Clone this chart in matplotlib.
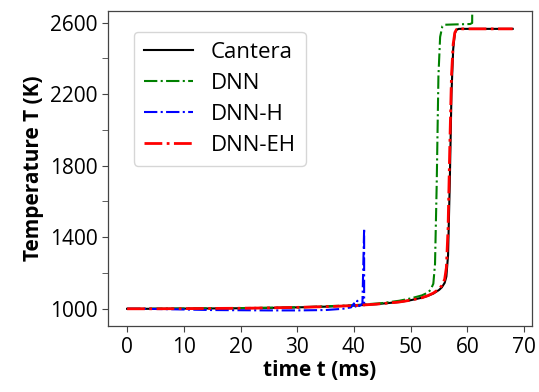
import matplotlib
matplotlib.use('Agg')
import matplotlib.pyplot as plt

plt.rcParams['font.family'] = ['Open Sans', 'DejaVu Sans']

# values (t in ms, T in K)
t_cantera = [0, 5, 10, 15, 20, 25, 30, 35, 40, 44, 48, 50, 52, 53, 54, 55, 55.5, 56, 56.3,
             56.6, 56.9, 57.2, 57.5, 57.8, 58.1, 58.5, 60, 65, 68]
T_cantera = [1000, 1000, 1001, 1002, 1003, 1005, 1008, 1012, 1018, 1026, 1038, 1048, 1062, 1072,
             1085, 1105, 1120, 1145, 1180, 1300, 1700, 2200, 2450, 2540, 2560, 2565, 2565, 2565, 2565]

t_dnn = [0, 10, 20, 30, 40, 45, 48, 50, 52, 53, 53.5, 54, 54.3, 54.6, 54.9, 55.2, 55.6, 56,
         58, 60.5, 60.85, 60.88]
T_dnn = [1000, 1002, 1004, 1008, 1020, 1032, 1045, 1058, 1075, 1090, 1105, 1140, 1250, 1700,
         2300, 2520, 2580, 2588, 2590, 2592, 2598, 2800]

t_dnnh = [0, 5, 10, 15, 20, 25, 30, 35, 38, 39.5, 40, 40.3, 40.6, 40.9, 41.2, 41.5, 41.8, 41.8, 41.9]
T_dnnh = [1000, 999, 996, 993, 992, 991, 991, 993, 1000, 1008, 1030, 1012, 1045, 1015, 1020,
          1030, 1450, 1020, 1020]

t_dnneh = [0, 5, 10, 15, 20, 25, 30, 35, 40, 44, 48, 50, 52, 53, 54, 55, 55.5, 56, 56.3,
           56.6, 56.9, 57.2, 57.5, 57.8, 58.1, 58.5, 60, 65, 68]
T_dnneh = [1000, 1000, 1001, 1002, 1003, 1005, 1008, 1012, 1018, 1026, 1038, 1048, 1062, 1073,
           1088, 1110, 1130, 1165, 1230, 1450, 1900, 2300, 2480, 2545, 2562, 2565, 2565, 2565, 2565]

y_major = [1000, 1400, 1800, 2200, 2600]
y_minor = [1200, 1600, 2000, 2400]
x_ticks = [0, 10, 20, 30, 40, 50, 60, 70]

fig, ax = plt.subplots(figsize=(5.39, 3.92), dpi=100)
fig.subplots_adjust(left=0.2, right=0.987, top=0.972, bottom=0.168)

ax.plot(t_cantera, T_cantera, 'k-', lw=1.5, label='Cantera')
ax.plot(t_dnn, T_dnn, 'g-.', lw=1.5, label='DNN')
ax.plot(t_dnnh, T_dnnh, 'b-.', lw=1.5, label='DNN-H')
ax.plot(t_dnneh, T_dnneh, 'r-.', lw=2, label='DNN-EH')

ax.set_ylim(903, 2665)
ax.set_yticks(y_major)
ax.set_yticks(y_minor, minor=True)
ax.set_xticks(x_ticks)
ax.tick_params(axis='both', which='major', labelsize=15, length=4, color='#444444')
ax.tick_params(axis='y', which='minor', length=4, color='#444444')
for s in ax.spines.values():
    s.set_color('#444444')
    s.set_linewidth(0.9)

ax.set_xlabel('time t (ms)', fontsize=15, fontweight='bold', labelpad=2)
ax.set_ylabel('Temperature T (K)', fontsize=15, fontweight='bold')
ax.legend(loc='upper left', fontsize=16, handlelength=2.2, borderpad=0.45,
          labelspacing=0.45, bbox_to_anchor=(0.035, 0.97))

plt.savefig('out.png', dpi=100)
